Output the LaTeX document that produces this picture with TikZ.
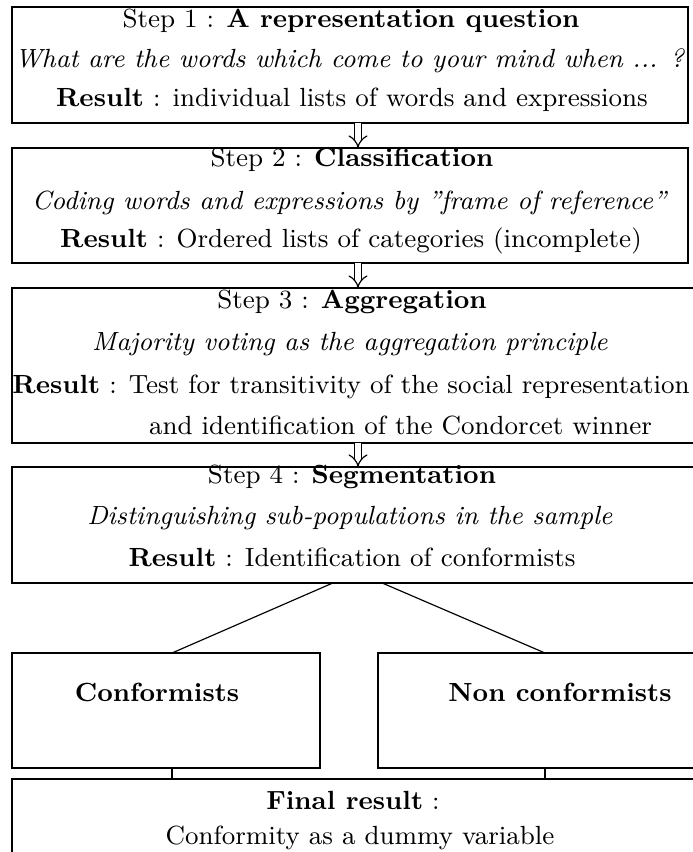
\documentclass[tikz,border=0pt]{standalone}
\usetikzlibrary{arrows.meta,calc}
\begin{document}
\begin{tikzpicture}[x=0.3425pt,y=-0.3425pt,
  stepbox/.style={draw,line width=0.4pt,inner sep=0pt,outer sep=0pt,anchor=north west},
  txt/.style={inner sep=0pt,outer sep=0pt,anchor=base,font=\fontsize{9.0pt}{11pt}\selectfont},
  dblarrow/.style={double,double distance=1.9pt,line width=0.4pt,-{Implies}},
  link/.style={line width=0.4pt}]
\useasboundingbox (0,0) rectangle (693,852);
\clip (0,0) rectangle (693,852);
% boxes
\node[stepbox,minimum width=231.5pt,minimum height=39.7pt] (s1) at (12,7) {};
\node[stepbox,minimum width=231.5pt,minimum height=39.4pt] (s2) at (12,148) {};
\node[stepbox,minimum width=245pt,minimum height=53.1pt] (s3) at (12,288) {};
\node[stepbox,minimum width=245pt,minimum height=39.7pt] (s4) at (12,467) {};
\node[stepbox,minimum width=105.5pt,minimum height=39.4pt] (conf) at (12,653) {};
\node[stepbox,minimum width=117.1pt,minimum height=39.4pt] (nonconf) at (378,653) {};
\node[stepbox,minimum width=245pt,minimum height=42pt] (final) at (12,779) {};
% texts
\node[txt] (t11) at (351,27) {Step 1 : \textbf{A representation question}};
\node[txt] (t12) at (350,67) {\textit{What are the words which come to your mind when ... ?}};
\node[txt] (t13) at (352,106) {\textbf{Result} : individual lists of words and expressions};
\node[txt] (t21) at (352,166) {Step 2 : \textbf{Classification}};
\node[txt] (t22) at (350,209) {\textit{Coding words and expressions by ''frame of reference''}};
\node[txt] (t23) at (351,247) {\textbf{Result} : Ordered lists of categories (incomplete)};
\node[txt] (t31) at (352,308) {Step 3 : \textbf{Aggregation}};
\node[txt] (t32) at (350,350) {\textit{Majority voting as the aggregation principle}};
\node[txt] (t33) at (351,393) {\textbf{Result} : Test for transitivity of the social representation};
\node[txt,anchor=base west] (t34) at (149,434) {and identification of the Condorcet winner};
\node[txt] (t41) at (352,483) {Step 4 : \textbf{Segmentation}};
\node[txt] (t42) at (350,524) {\textit{Distinguishing sub-populations in the sample}};
\node[txt] (t43) at (352,566) {\textbf{Result} : Identification of conformists};
\node[txt] (tc) at (157,701) {\textbf{Conformists}};
\node[txt] (tn) at (560,701) {\textbf{Non conformists}};
\node[txt] (tf1) at (353,809) {\textbf{Final result} :};
\node[txt] (tf2) at (360,844) {Conformity as a dummy variable};
% arrows
\coordinate (ax) at (358,0);
\draw[dblarrow] (s1.south west -| ax) -- (s2.north west -| ax);
\draw[dblarrow] (s2.south west -| ax) -- (s3.north west -| ax);
\draw[dblarrow] (s3.south west -| ax) -- (s4.north west -| ax);
% split lines
\coordinate (l1) at (333,0);
\coordinate (l2) at (382,0);
\coordinate (c1) at (172,0);
\coordinate (c2) at (545,0);
\draw[link] (s4.south west -| l1) -- (conf.north west -| c1);
\draw[link] (s4.south west -| l2) -- (nonconf.north west -| c2);
\draw[link] (conf.south west -| c1) -- (final.north west -| c1);
\draw[link] (nonconf.south west -| c2) -- (final.north west -| c2);
\end{tikzpicture}
\end{document}
